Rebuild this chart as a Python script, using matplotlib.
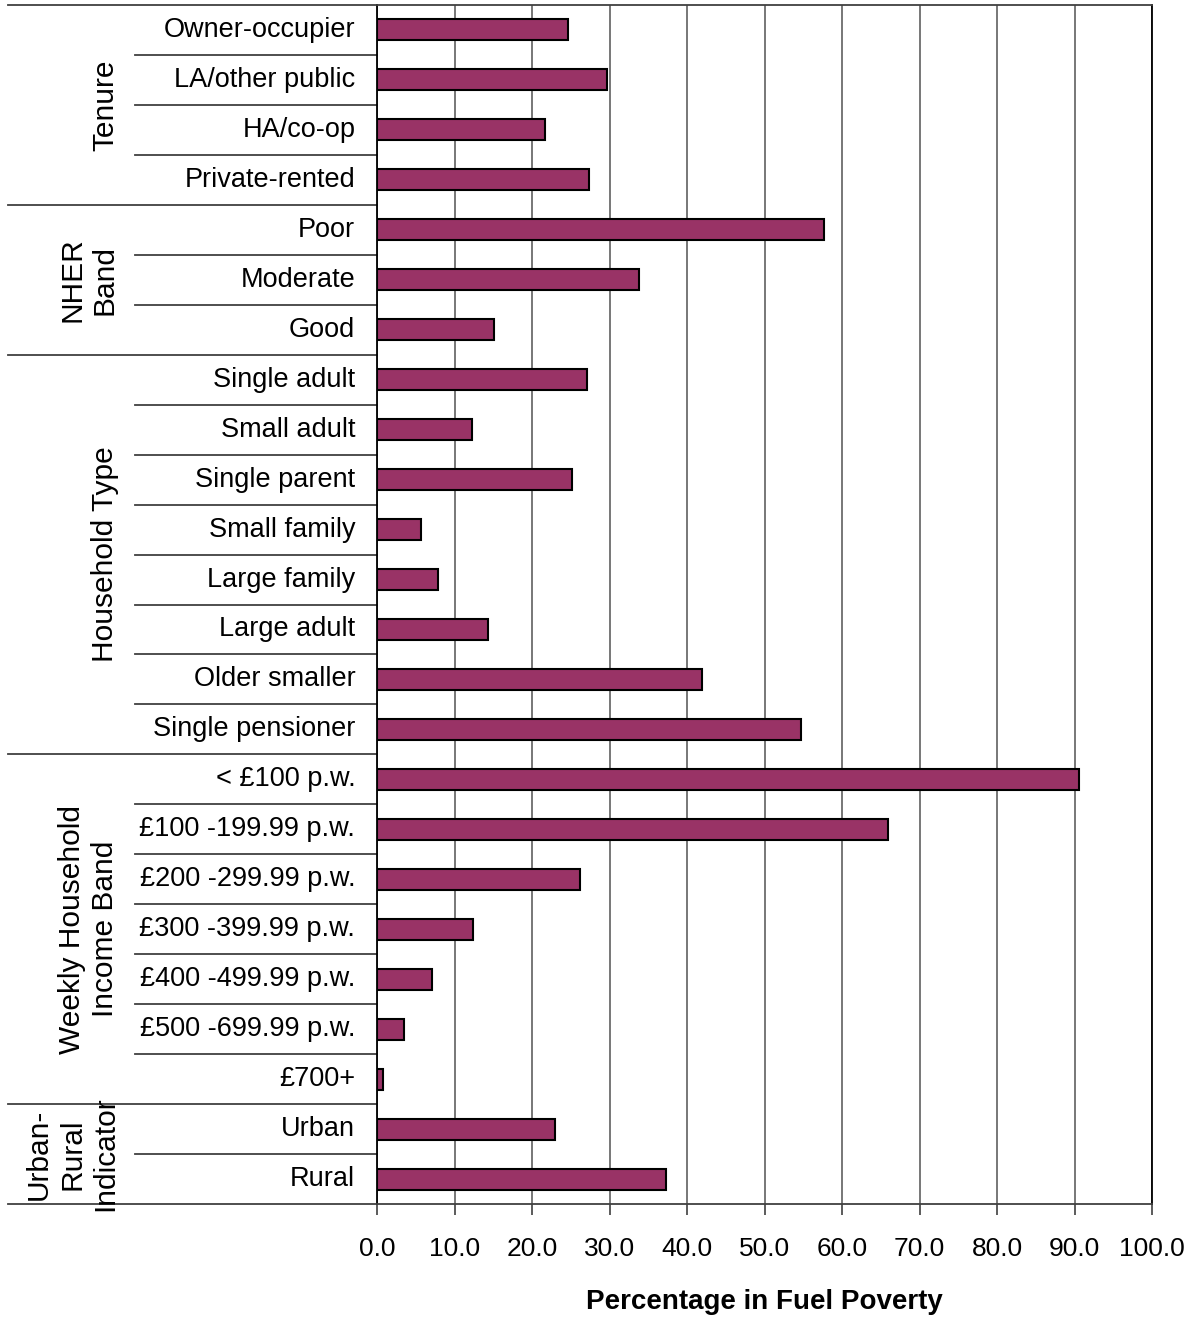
import numpy as np
import matplotlib.pyplot as plt

plt.rcParams['font.family'] = ['Liberation Sans', 'DejaVu Sans']

# categories, grouped
groups = ["Tenure", "NHER\nBand", "Household Type", "Weekly Household\nIncome Band", "Urban-\nRural\nIndicator"]
group_sizes = [4, 3, 8, 7, 2]

categories = ["Owner-occupier", "LA/other public", "HA/co-op", "Private-rented",
              "Poor", "Moderate", "Good",
              "Single adult", "Small adult", "Single parent", "Small family",
              "Large family", "Large adult", "Older smaller", "Single pensioner",
              "< £100 p.w.", "£100 -199.99 p.w.", "£200 -299.99 p.w.", "£300 -399.99 p.w.",
              "£400 -499.99 p.w.", "£500 -699.99 p.w.", "£700+",
              "Urban", "Rural"]

values = [24.6, 29.7, 21.7, 27.4,
          57.7, 33.8, 15.1,
          27.1, 12.3, 25.2, 5.7, 7.9, 14.3, 41.9, 54.7,
          90.6, 65.9, 26.2, 12.4, 7.1, 3.5, 0.8,
          23.0, 37.3]

xticks = np.arange(0, 101, 10)

fig = plt.figure(figsize=(11.96, 13.18), dpi=100)
ax = fig.add_axes([377/1196, 114/1318, 775/1196, 1199/1318])

y = np.arange(len(categories))
ax.barh(y, values, height=0.42, color="#993366", edgecolor="black", linewidth=1.5, zorder=3)

ax.set_xlim(0, 100)
ax.set_ylim(len(categories) - 0.5, -0.5)
ax.set_xticks(xticks)
ax.set_xticklabels([f"{v:.1f}" for v in xticks], fontsize=19)
ax.tick_params(axis="x", direction="out", length=8, width=1.2, pad=16, color="#404040")
ax.set_yticks([])
ax.xaxis.grid(True, color="#606060", linewidth=1.2, zorder=0)
for s in ax.spines.values():
    s.set_linewidth(1.3)
    s.set_color("black")
ax.spines["top"].set_color("#404040")
ax.spines["bottom"].set_color("#404040")

ax.set_xlabel("Percentage in Fuel Poverty", fontsize=20, fontweight="bold", labelpad=20)

# category labels and row separators
ytr = ax.get_yaxis_transform()
for i, c in enumerate(categories):
    ax.text(-0.028, i, c, transform=ytr, ha="right", va="center", fontsize=19.5)

bounds = np.cumsum([0] + group_sizes)
for b in range(len(categories) + 1):
    x0 = -0.476 if b in bounds else -0.312
    ax.plot([x0, 0], [b - 0.5, b - 0.5], transform=ytr, color="#404040",
            linewidth=1.3, clip_on=False)

# group labels
for g, start, n in zip(groups, bounds[:-1], group_sizes):
    mid = start + (n - 1) / 2
    ax.text(-0.333, mid, g, transform=ytr, rotation=90, ha="right", va="center",
            multialignment="center", fontsize=21.5, linespacing=1.22)

fig.savefig("out.png", dpi=100)
